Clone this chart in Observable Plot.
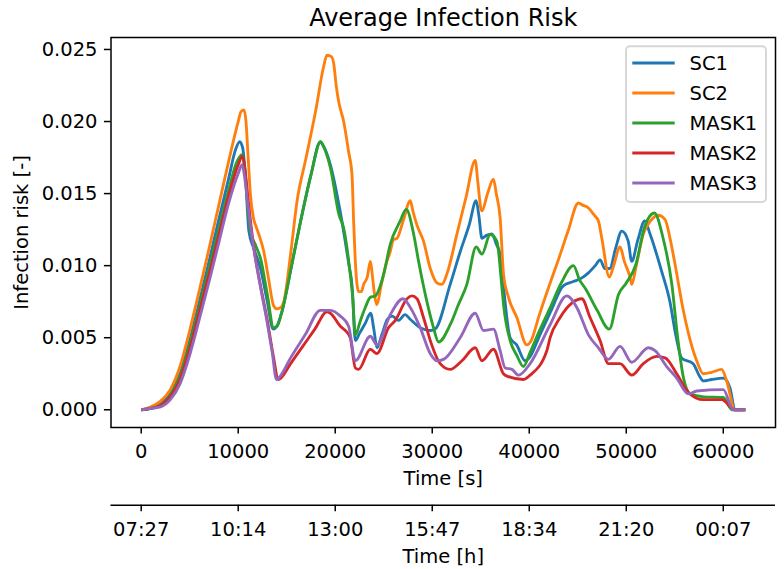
<!DOCTYPE html>
<html>
<head>
<meta charset="utf-8">
<script src="https://cdn.jsdelivr.net/npm/d3@7"></script>
<script src="https://cdn.jsdelivr.net/npm/@observablehq/plot@0.6"></script>
<style>
  html, body { margin: 0; padding: 0; background: #ffffff; }
  #chart { width: 784px; height: 569px; font-family: "DejaVu Sans", sans-serif; }
  #chart svg { display: block; }
</style>
</head>
<body>
<div id="chart"></div>
<script>
const seriesNames = ["SC1", "SC2", "MASK1", "MASK2", "MASK3"];
const seriesColors = ["#1f77b4", "#ff7f0e", "#2ca02c", "#d62728", "#9467bd"];
const xTicks = [0, 10000, 20000, 30000, 40000, 50000, 60000];
const yTicks = [0, 0.005, 0.010, 0.015, 0.020, 0.025];
const clockLabels = ["07:27", "10:14", "13:00", "15:47", "18:34", "21:20", "00:07"];
const titleText = "Average Infection Risk";
const xLabelSeconds = "Time [s]";
const xLabelHours = "Time [h]";
const yLabelText = "Infection risk [-]";

// [time in s, infection risk]
const sc1 = [[0,0],[1000,0.0001],[2000,0.0004],[3000,0.0011],[4000,0.0025],[5000,0.0048],[6000,0.0075],[7000,0.0103],[8000,0.0132],[9000,0.0160],[9700,0.0180],[10150,0.0186],[10450,0.0182],[10750,0.0162],[11100,0.0124],[11600,0.0112],[12300,0.0098],[13000,0.0075],[13600,0.0056],[14000,0.0058],[14500,0.0068],[15500,0.0100],[16500,0.0133],[17500,0.0163],[18470,0.0186],[18700,0.0184],[19500,0.0170],[20500,0.0138],[21400,0.0101],[21750,0.0085],[22070,0.0048],[22500,0.0053],[23100,0.0060],[23650,0.0067],[24000,0.0055],[24300,0.0043],[24800,0.0052],[25400,0.0063],[25900,0.0065],[26500,0.0062],[27200,0.0066],[27700,0.0063],[28750,0.0057],[29800,0.0055],[30300,0.0056],[31850,0.0087],[32900,0.0110],[33800,0.0128],[34530,0.0145],[34800,0.0135],[35120,0.0119],[35600,0.0121],[36150,0.0122],[36600,0.0115],[37000,0.0108],[37350,0.0085],[38030,0.0050],[38700,0.0045],[39580,0.0034],[40000,0.0036],[41100,0.0052],[42200,0.0068],[43500,0.0086],[44550,0.0089],[45300,0.0091],[46100,0.0095],[46800,0.0100],[47300,0.0104],[47800,0.0098],[48300,0.0098],[48900,0.0112],[49540,0.0124],[50200,0.0117],[50560,0.0103],[51200,0.0118],[51900,0.0131],[52450,0.0122],[53650,0.0096],[54500,0.0075],[55100,0.0052],[55700,0.0036],[56900,0.0032],[57500,0.0024],[57950,0.0020],[58800,0.0021],[60000,0.0022],[60700,0.0015],[61200,0],[62270,0]];

const sc2 = [[0,0],[1000,0.0002],[2000,0.0006],[3000,0.0014],[4000,0.0030],[5000,0.0055],[6000,0.0083],[7000,0.0112],[8000,0.0142],[9000,0.0172],[10000,0.0200],[10300,0.0207],[10600,0.0208],[10800,0.0200],[11000,0.0178],[11250,0.0150],[11570,0.0133],[11850,0.0127],[12110,0.0122],[12630,0.0110],[13100,0.0092],[13660,0.0072],[14000,0.0070],[14400,0.0071],[14700,0.0075],[15400,0.0108],[16070,0.0145],[17000,0.0175],[18000,0.0208],[18800,0.0238],[19150,0.0246],[19600,0.0245],[19850,0.0240],[20100,0.0225],[20350,0.0214],[20870,0.0200],[21380,0.0179],[21730,0.0163],[21900,0.0130],[22070,0.0103],[22410,0.0082],[22700,0.0082],[22930,0.0087],[23300,0.0092],[23620,0.0103],[23800,0.0095],[23960,0.0085],[24300,0.0073],[24700,0.0085],[25200,0.0100],[25680,0.0110],[26000,0.0118],[26370,0.0119],[27000,0.0131],[27740,0.0145],[28000,0.0138],[28430,0.0128],[29100,0.0117],[29800,0.0098],[30490,0.0088],[31000,0.0087],[31500,0.0094],[32550,0.0122],[33500,0.0148],[34430,0.0173],[34700,0.0158],[35000,0.0140],[35120,0.0138],[35700,0.0150],[36300,0.0160],[36600,0.0150],[37000,0.0133],[37350,0.0094],[37860,0.0078],[38720,0.0064],[39750,0.0045],[40200,0.0048],[41000,0.0065],[42000,0.0085],[43000,0.0104],[44000,0.0124],[45070,0.01435],[45500,0.0142],[46100,0.0140],[46700,0.0135],[47130,0.0131],[47480,0.0119],[48260,0.0092],[48700,0.0100],[49360,0.0113],[49800,0.0103],[50390,0.0092],[50570,0.0087],[51000,0.0099],[51760,0.0122],[52500,0.0131],[53300,0.0135],[54000,0.0132],[54510,0.0119],[55000,0.0102],[55880,0.0069],[56600,0.0048],[57260,0.0034],[57940,0.0025],[58800,0.0026],[59830,0.0028],[60350,0.0020],[61200,0],[62270,0]];

const mask1 = [[0,0],[1000,0.0001],[2000,0.0003],[3000,0.0010],[4000,0.0023],[5000,0.0045],[6000,0.0071],[7000,0.0098],[8000,0.0125],[9000,0.0152],[9800,0.0171],[10400,0.0177],[10700,0.0166],[11000,0.0140],[11250,0.0124],[11800,0.0114],[12300,0.0105],[13000,0.0080],[13650,0.0057],[14000,0.0058],[14500,0.0068],[15500,0.0100],[16500,0.0133],[17500,0.0163],[18500,0.0186],[18700,0.0184],[19500,0.0168],[20400,0.0135],[20870,0.0126],[21550,0.0094],[21800,0.0078],[22070,0.0052],[22600,0.0062],[23100,0.0071],[23620,0.0078],[24130,0.0079],[24990,0.0094],[25680,0.0115],[26700,0.0131],[27320,0.0139],[28080,0.0122],[28590,0.0103],[29450,0.0075],[30130,0.0057],[30650,0.0047],[31850,0.0059],[32700,0.0073],[33570,0.0087],[34530,0.0113],[35120,0.0108],[35970,0.01216],[36660,0.0117],[37180,0.0085],[37350,0.0073],[38030,0.0048],[38700,0.0038],[39400,0.0030],[40100,0.0040],[41000,0.0054],[42100,0.0070],[43300,0.0088],[44550,0.0100],[45200,0.0090],[45800,0.0084],[47000,0.0069],[48250,0.0056],[49200,0.0080],[50000,0.0088],[51000,0.0101],[51850,0.0126],[52900,0.01365],[53800,0.0119],[54700,0.0087],[55300,0.0050],[55900,0.0022],[56600,0.0011],[58000,0.0009],[60000,0.00085],[60900,0],[62270,0]];

const mask2 = [[0,0],[1000,0.0001],[2000,0.0003],[3000,0.0009],[4000,0.0021],[5000,0.0042],[6000,0.0068],[7000,0.0094],[8000,0.0121],[9000,0.0148],[10000,0.0170],[10450,0.0176],[10700,0.0166],[11080,0.0142],[11600,0.0113],[12300,0.0086],[13000,0.0062],[13600,0.0038],[14150,0.0021],[14400,0.0022],[15400,0.0032],[16650,0.0044],[17900,0.0056],[19150,0.0068],[19500,0.0067],[20530,0.0058],[21040,0.0055],[21550,0.0050],[22070,0.0029],[22410,0.0028],[23620,0.0042],[24300,0.0039],[25500,0.0057],[26190,0.0062],[27400,0.0077],[27910,0.0079],[28430,0.0077],[29100,0.0064],[29800,0.0048],[30820,0.0032],[31850,0.0028],[33060,0.0034],[34430,0.0043],[35120,0.0034],[36310,0.0042],[37340,0.0025],[37860,0.0023],[39400,0.0021],[40090,0.0024],[41810,0.0041],[42150,0.0050],[43180,0.0064],[44390,0.0074],[45420,0.0077],[46270,0.0064],[47300,0.0048],[48160,0.0032],[49360,0.0032],[50570,0.0024],[51760,0.0032],[53140,0.0037],[54000,0.0036],[55200,0.0025],[56400,0.0012],[57940,0.0007],[59830,0.0007],[61200,0],[62270,0]];

const mask3 = [[0,0],[1000,0.0001],[2000,0.0002],[3000,0.0007],[4000,0.0018],[5000,0.0038],[6000,0.0063],[7000,0.0089],[8000,0.0116],[9000,0.0143],[10000,0.0164],[10400,0.0170],[10650,0.0162],[11000,0.0142],[11600,0.0112],[12300,0.0085],[13000,0.0060],[13500,0.0040],[13950,0.0021],[14300,0.0023],[15400,0.0036],[16900,0.0052],[18470,0.0069],[19500,0.0069],[20530,0.0065],[21380,0.0058],[22070,0.0034],[23620,0.0051],[24300,0.0045],[25680,0.0066],[26980,0.0077],[27740,0.0071],[28760,0.0057],[29790,0.0039],[30480,0.0034],[31160,0.0035],[32880,0.0050],[34430,0.0067],[35280,0.0055],[36310,0.0056],[37000,0.0041],[37520,0.0029],[38210,0.0028],[38890,0.0024],[40090,0.0032],[42150,0.0059],[43870,0.0079],[44900,0.0071],[46100,0.0052],[47130,0.0043],[48160,0.0035],[49360,0.0044],[50570,0.0033],[52280,0.0043],[52970,0.0041],[54170,0.0030],[55200,0.0022],[56400,0.0011],[57260,0.0013],[60000,0.0014],[61030,0],[62270,0]];

const seriesData = [sc1, sc2, mask1, mask2, mask3];
const rows = seriesNames.flatMap((name, i) => seriesData[i].map(([t, v]) => ({series: name, t, v})));

// matplotlib-like 5% data margins
const [tMin, tMax] = d3.extent(rows, d => d.t);
const [vMin, vMax] = d3.extent(rows, d => d.v);
const tPad = 0.05 * (tMax - tMin), vPad = 0.05 * (vMax - vMin);
const xDomain = [tMin - tPad, tMax + tPad];
const yDomain = [vMin - vPad, vMax + vPad];

const FONT = '"DejaVu Sans", sans-serif';
const FS = 19.5;
const clockByTick = new Map(xTicks.map((t, i) => [t, clockLabels[i]]));

const main = Plot.plot({
  width: 784, height: 495,
  marginLeft: 110.5, marginRight: 9, marginTop: 37, marginBottom: 68,
  style: {fontFamily: FONT, fontSize: FS + "px", background: "white", color: "black", overflow: "visible"},
  x: {domain: xDomain},
  y: {domain: yDomain},
  color: {domain: seriesNames, range: seriesColors},
  marks: [
    Plot.line(rows, {x: "t", y: "v", z: "series", stroke: "series", strokeWidth: 2.85, curve: "monotone-x", strokeLinejoin: "round", strokeLinecap: "butt"}),
    Plot.frame({stroke: "black", strokeWidth: 1.5}),
    Plot.axisX({ticks: xTicks, tickFormat: d => String(d), tickSize: 6.6, tickPadding: 10.3, strokeWidth: 1.5, fontSize: FS, label: null}),
    Plot.axisY({ticks: yTicks, tickFormat: d3.format(".3f"), tickSize: 6.6, tickPadding: 6.9, strokeWidth: 1.5, fontSize: FS, label: null}),
    Plot.text([xLabelSeconds], {frameAnchor: "bottom", lineAnchor: "middle", textAnchor: "middle", dy: 51.5, fontSize: FS, text: d => d}),
    Plot.text([yLabelText], {frameAnchor: "left", lineAnchor: "middle", textAnchor: "middle", dx: -89, rotate: -90, fontSize: FS, text: d => d}),
    Plot.text([titleText], {frameAnchor: "top", lineAnchor: "middle", textAnchor: "middle", dy: -19, fontSize: 24, text: d => d})
  ]
});

// legend inside the axes (upper right)
const svg = d3.select(main);
const lg = svg.append("g").attr("font-family", FONT).attr("font-size", FS).attr("text-anchor", "start");
lg.append("rect")
  .attr("x", 626).attr("y", 46.3).attr("width", 140).attr("height", 155.7)
  .attr("rx", 4).attr("ry", 4)
  .attr("fill", "white").attr("fill-opacity", 0.8)
  .attr("stroke", "#d6d6d6").attr("stroke-width", 1.9);
seriesNames.forEach((name, i) => {
  const yy = 63 + 30 * i;
  lg.append("line").attr("x1", 632.3).attr("x2", 674.7).attr("y1", yy).attr("y2", yy)
    .attr("stroke", seriesColors[i]).attr("stroke-width", 2.85);
  lg.append("text").attr("x", 689.5).attr("y", yy + 7.4).attr("fill", "black")
    .attr("text-anchor", "start").text(name);
});

const clock = Plot.plot({
  width: 784, height: 74,
  marginLeft: 110.5, marginRight: 9, marginTop: 9.7, marginBottom: 64.3,
  style: {fontFamily: FONT, fontSize: FS + "px", background: "white", color: "black", overflow: "visible"},
  x: {domain: xDomain},
  y: {domain: [0, 1], axis: null},
  marks: [
    Plot.ruleY([0], {stroke: "black", strokeWidth: 1.5}),
    Plot.axisX({ticks: xTicks, tickFormat: d => clockByTick.get(d), tickSize: 6.6, tickPadding: 10.3, strokeWidth: 1.5, fontSize: FS, label: null}),
    Plot.text([xLabelHours], {frameAnchor: "bottom", lineAnchor: "middle", textAnchor: "middle", dy: 51.5, fontSize: FS, text: d => d})
  ]
});

const chart = document.getElementById("chart");
chart.appendChild(main);
chart.appendChild(clock);
</script>
</body>
</html>
